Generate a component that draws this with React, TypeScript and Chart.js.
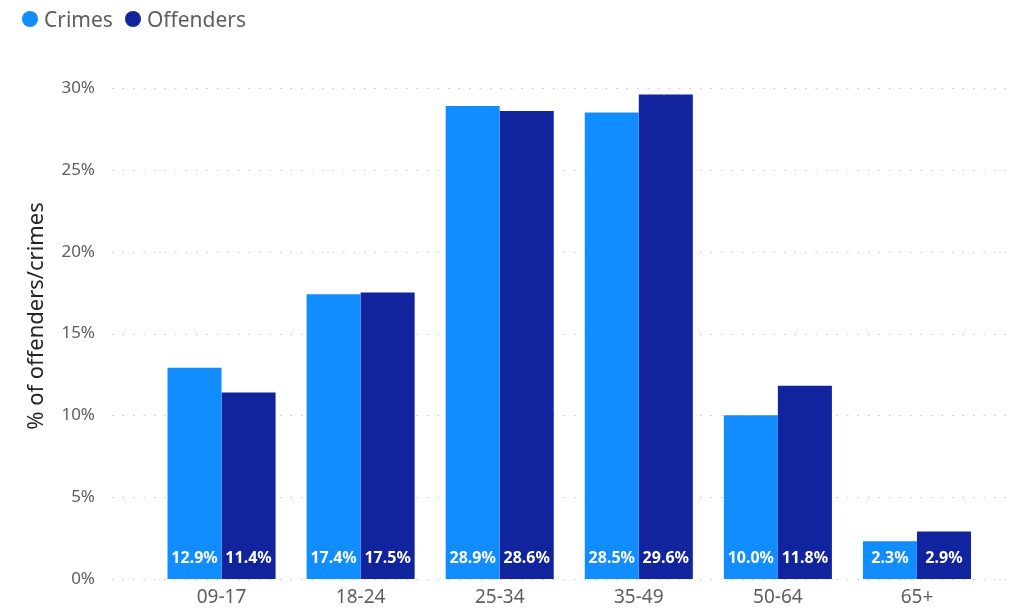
import React, { useEffect, useRef } from "react";
import { Chart, registerables } from "chart.js";

Chart.register(...registerables);

const categories = ["09-17", "18-24", "25-34", "35-49", "50-64", "65+"];
const crimes = [12.9, 17.4, 28.9, 28.5, 10.0, 2.3];
const offenders = [11.4, 17.5, 28.6, 29.6, 11.8, 2.9];
const seriesNames = ["Crimes", "Offenders"];
const seriesColors = ["#118DFF", "#12239E"];
const yTitle = "% of offenders/crimes";
const FONT = "'Noto Sans', 'Open Sans', sans-serif";

const extrasPlugin = {
  id: "extras",
  beforeDatasetsDraw(chart: any) {
    const { ctx, chartArea, scales } = chart;
    const y = scales.y;
    ctx.save();
    ctx.strokeStyle = "#C8C6C4";
    ctx.lineWidth = 1;
    ctx.setLineDash([1.5, 9]);
    y.ticks.forEach((t: any) => {
      const py = Math.round(y.getPixelForValue(t.value)) + 0.5;
      ctx.beginPath();
      ctx.moveTo(chartArea.left - 40, py);
      ctx.lineTo(chartArea.right + 28, py);
      ctx.stroke();
    });
    ctx.restore();
  },
  afterDatasetsDraw(chart: any) {
    const { ctx, scales } = chart;
    const base = scales.y.getPixelForValue(0);
    ctx.save();
    ctx.font = `bold 16px ${FONT}`;
    ctx.fillStyle = "#FFFFFF";
    ctx.textAlign = "center";
    ctx.textBaseline = "middle";
    chart.data.datasets.forEach((ds: any, di: number) => {
      const meta = chart.getDatasetMeta(di);
      meta.data.forEach((el: any, i: number) => {
        const v = ds.data[i] as number;
        ctx.fillText(`${v.toFixed(1)}%`, el.x, base - 21);
      });
    });
    ctx.restore();
  },
  afterDraw(chart: any) {
    const { ctx } = chart;
    ctx.save();
    ctx.translate(37, 316);
    ctx.rotate(-Math.PI / 2);
    ctx.font = `22px ${FONT}`;
    ctx.fillStyle = "#252423";
    ctx.textAlign = "center";
    ctx.textBaseline = "middle";
    ctx.fillText(yTitle, 0, 0);
    ctx.restore();
  },
};

export default function App() {
  const canvasRef = useRef<HTMLCanvasElement | null>(null);

  useEffect(() => {
    if (!canvasRef.current) return;
    const chart = new Chart(canvasRef.current, {
      type: "bar",
      data: {
        labels: categories,
        datasets: [
          {
            label: seriesNames[0],
            data: crimes,
            backgroundColor: seriesColors[0],
            categoryPercentage: 0.777,
            barPercentage: 1,
          },
          {
            label: seriesNames[1],
            data: offenders,
            backgroundColor: seriesColors[1],
            categoryPercentage: 0.777,
            barPercentage: 1,
          },
        ],
      },
      options: {
        animation: false,
        responsive: false,
        maintainAspectRatio: false,
        layout: { padding: { top: 88, left: 0, right: 35.5, bottom: 0 } },
        plugins: {
          legend: { display: false },
          tooltip: { enabled: false },
        },
        scales: {
          x: {
            grid: { display: false, drawTicks: false },
            border: { display: false },
            ticks: {
              color: "#605E5C",
              font: { family: FONT, size: 19 },
              padding: 7,
              maxRotation: 0,
            },
            afterFit: (scale: any) => {
              scale.height = 31;
            },
          },
          y: {
            min: 0,
            max: 30,
            grid: { display: false, drawTicks: false },
            border: { display: false },
            ticks: {
              stepSize: 5,
              color: "#605E5C",
              font: { family: FONT, size: 17 },
              padding: 57,
              callback: (v: any) => `${v}%`,
            },
            afterFit: (scale: any) => {
              scale.width = 152;
              scale.paddingTop = 10;
              scale.paddingBottom = 10;
            },
          },
        },
      },
      plugins: [extrasPlugin],
    });
    return () => chart.destroy();
  }, []);

  const dot = (c: string) => (
    <span
      style={{
        display: "inline-block",
        width: 16,
        height: 16,
        borderRadius: "50%",
        background: c,
      }}
    />
  );

  return (
    <div
      style={{
        position: "fixed",
        left: 0,
        top: 0,
        width: 1022,
        height: 610,
        background: "#FFFFFF",
      }}
    >
      <canvas
        ref={canvasRef}
        width={1022}
        height={610}
        style={{ position: "absolute", left: 0, top: 0, width: 1022, height: 610 }}
      />
      <div
        style={{
          position: "absolute",
          left: 22,
          top: 5,
          height: 28,
          display: "flex",
          alignItems: "center",
          fontFamily: FONT,
          fontSize: 21,
          color: "#605E5C",
          lineHeight: "28px",
        }}
      >
        {dot(seriesColors[0])}
        <span style={{ marginLeft: 6 }}>{seriesNames[0]}</span>
        <span style={{ marginLeft: 12 }}>{dot(seriesColors[1])}</span>
        <span style={{ marginLeft: 6 }}>{seriesNames[1]}</span>
      </div>
    </div>
  );
}
